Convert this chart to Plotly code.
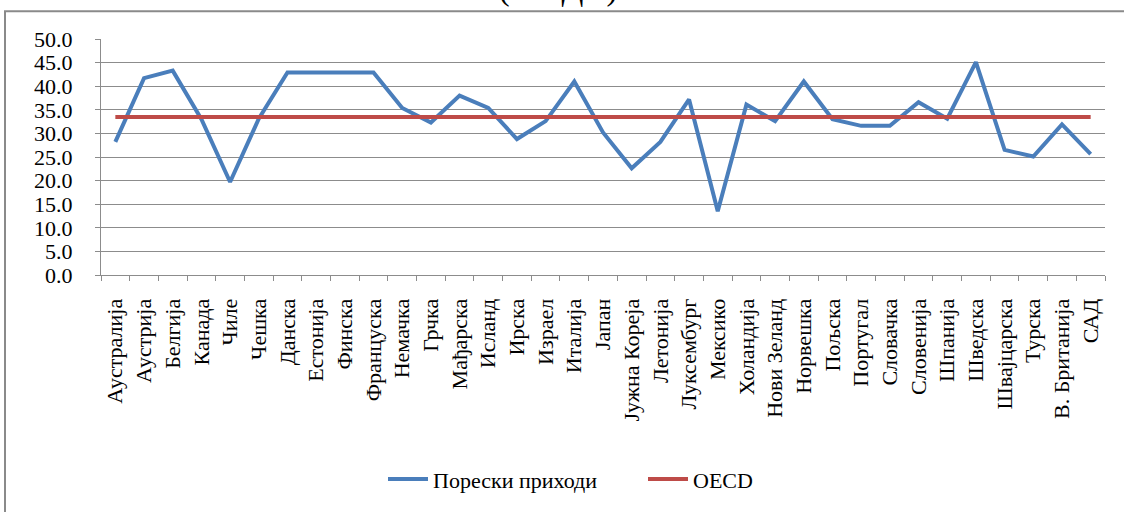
import plotly.graph_objects as go

# OECD member states (Serbian Cyrillic labels)
countries = [
    "Аустралија", "Аустрија", "Белгија", "Канада", "Чиле", "Чешка", "Данска",
    "Естонија", "Финска", "Француска", "Немачка", "Грчка", "Мађарска", "Исланд",
    "Ирска", "Израел", "Италија", "Јапан", "Јужна Кореја", "Летонија",
    "Луксембург", "Мексико", "Холандија", "Нови Зеланд", "Норвешка", "Пољска",
    "Португал", "Словачка", "Словенија", "Шпанија", "Шведска", "Швајцарска",
    "Турска", "В. Британија", "САД",
]

# Tax revenue, % of GDP
tax_revenue = [
    28.2, 41.7, 43.3, 33.0, 19.7, 33.1, 42.9,
    42.9, 42.9, 42.9, 35.4, 32.3, 38.0, 35.4,
    28.8, 32.6, 41.0, 30.2, 22.6, 28.2,
    37.2, 13.5, 36.1, 32.6, 41.0, 33.0,
    31.6, 31.6, 36.6, 33.1, 45.1, 26.5,
    25.1, 31.9, 25.6,
]

# OECD average, % of GDP
oecd_avg = [33.5] * len(countries)

series_names = ["Порески приходи", "OECD"]
title_text = "(% БДП)"

FONT = "Liberation Serif"
BLUE = "#4A7EBB"
RED = "#BE4B48"
GRID = "#8C8C8C"

# plot-area geometry in pixels
W, H = 1124, 512
L, R, T, B = 101, 19, 39, 235
PW, PH = W - L - R, H - T - B


def px_x(px):
    return (px - L) / PW


def px_y(py):
    return (H - B - py) / PH


fig = go.Figure()
fig.add_trace(go.Scatter(
    x=countries, y=tax_revenue, mode="lines", name=series_names[0],
    line=dict(color=BLUE, width=4),
))
fig.add_trace(go.Scatter(
    x=countries, y=oecd_avg, mode="lines", name=series_names[1],
    line=dict(color=RED, width=4),
))

fig.update_layout(
    width=W, height=H,
    margin=dict(l=L, r=R, t=T, b=B, pad=0),
    paper_bgcolor="white", plot_bgcolor="white",
    font=dict(family=FONT, color="black"),
    showlegend=True,
    legend=dict(
        orientation="h", x=px_x(383), xanchor="left", y=px_y(483), yanchor="middle",
        font=dict(family=FONT, size=22, color="black"),
        itemwidth=40, tracegroupgap=0,
        entrywidth=205, entrywidthmode="pixels",
    ),
    xaxis=dict(
        type="category", range=[-0.5, len(countries) - 0.5],
        showgrid=False, showline=True, linecolor=GRID, linewidth=1,
        ticks="outside", tickson="boundaries", ticklen=5, tickcolor=GRID,
        tickangle=-90, tickfont=dict(family=FONT, size=22, color="black"),
        ticklabelstandoff=14,
    ),
    yaxis=dict(
        range=[0, 50], dtick=5, tickformat=".1f",
        showgrid=True, gridcolor=GRID, gridwidth=1,
        showline=True, linecolor=GRID, linewidth=1,
        ticks="outside", ticklen=5, tickcolor=GRID,
        tickfont=dict(family=FONT, size=22, color="black"),
        ticklabelstandoff=18, zeroline=False,
    ),
    shapes=[
        dict(
            type="rect", xref="paper", yref="paper",
            x0=px_x(5), x1=px_x(1140), y0=px_y(530), y1=px_y(11),
            line=dict(color="#8A8A8A", width=2), fillcolor="rgba(0,0,0,0)",
            layer="below",
        )
    ],
    annotations=[
        dict(
            text=title_text, xref="paper", yref="paper",
            x=px_x(558), y=px_y(-11), xanchor="center", yanchor="middle",
            showarrow=False, font=dict(family=FONT, size=32, color="black"),
        )
    ],
)

fig.write_html("out.html")
